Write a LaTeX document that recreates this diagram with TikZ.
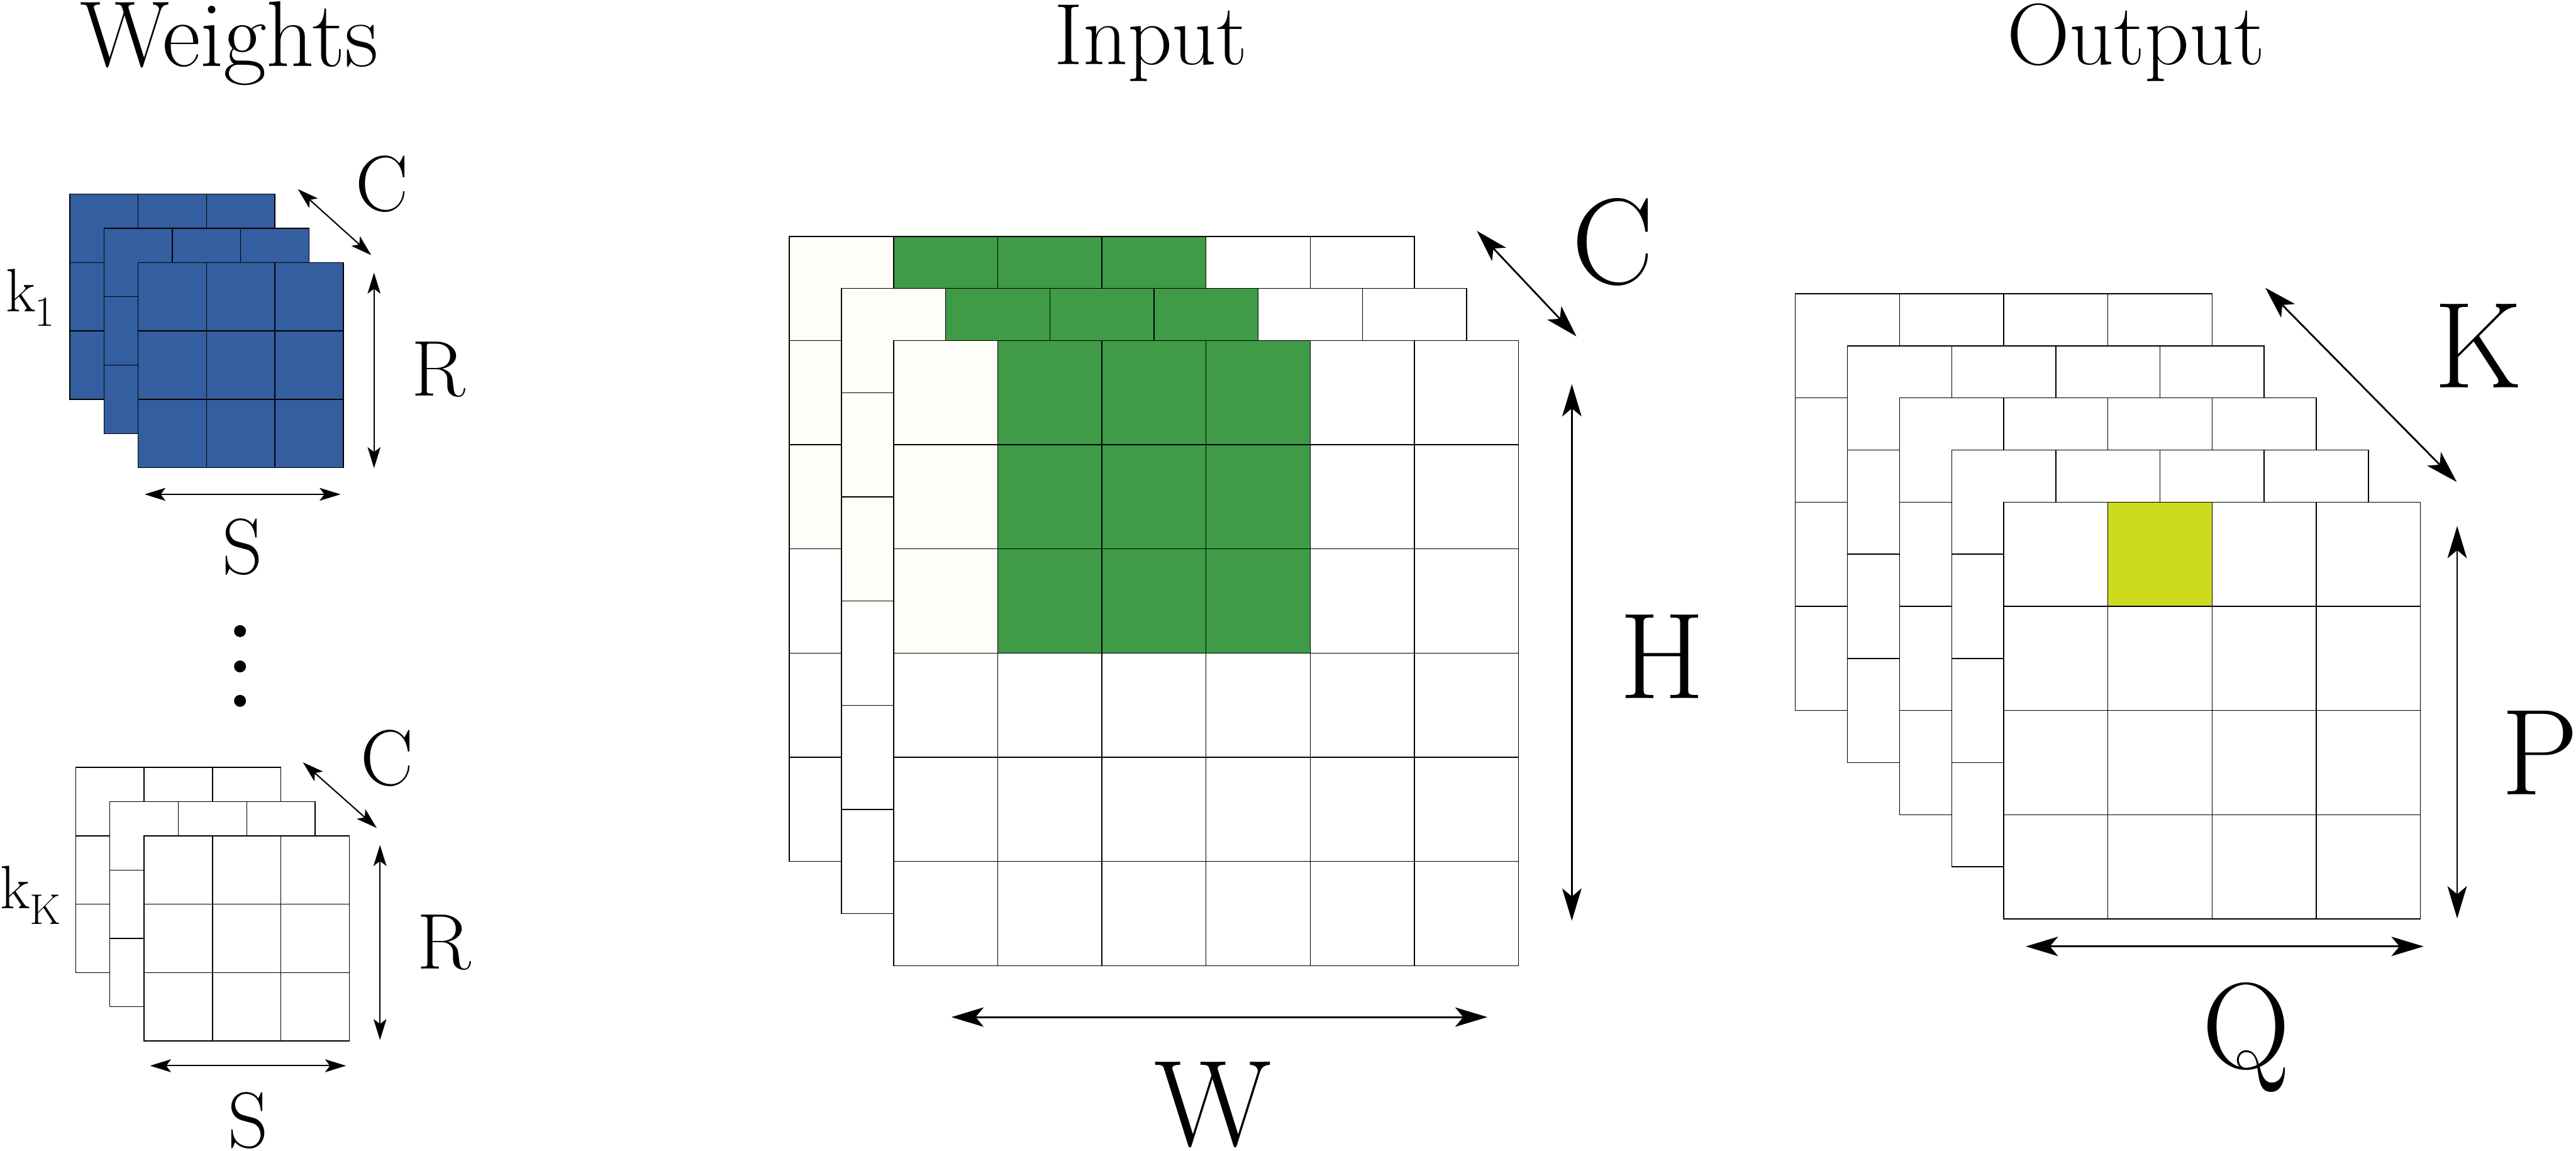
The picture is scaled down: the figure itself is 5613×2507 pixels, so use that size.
\documentclass[tikz,border=0pt]{standalone}
\usepackage{fontspec}
\usetikzlibrary{arrows.meta}
\definecolor{cWgt}{HTML}{335E9F}
\definecolor{cWin}{HTML}{3F9B46}
\definecolor{cPad}{HTML}{FFFDF7}
\definecolor{cHit}{HTML}{CCDB1E}
\tikzset{
  cell/.style={draw=black,line width=0.55pt,fill=white},
  dimarr/.style={{Stealth[length=20pt,width=12pt,inset=5pt]}-{Stealth[length=20pt,width=12pt,inset=5pt]},line width=1.1pt},
  wdimarr/.style={{Stealth[length=13pt,width=8pt,inset=3pt]}-{Stealth[length=13pt,width=8pt,inset=3pt]},line width=0.8pt},
  ttl/.style={font=\fontsize{54}{60}\selectfont,inner sep=0pt,anchor=base},
  biglbl/.style={font=\fontsize{76}{90}\selectfont,inner sep=0pt},
  wlbl/.style={font=\fontsize{49}{58}\selectfont,inner sep=0pt},
  klbl/.style={font=\fontsize{38}{46}\selectfont,inner sep=0pt,anchor=base west},
}
\begin{document}
\begin{tikzpicture}[x=0.1mm,y=-0.1mm]
  \useasboundingbox (0,0) rectangle (5613,2507);

  % titles
  \node[ttl,font=\fontsize{58}{64}\selectfont] (tW) at (500,145) {Weights};
  \node[ttl] (tI) at (2508,140) {Input};
  \node[ttl] (tO) at (4654,140) {Output};

  % weights k_1 and k_K
  \foreach \l in {0,1,2}
    \foreach \i in {0,1,2}
      \foreach \j in {0,1,2}
        \draw[cell,fill=cWgt] ({152+74.5*\l+149*\i},{423+74.5*\l+149*\j}) rectangle ++(149,149);
  \foreach \l in {0,1,2}
    \foreach \i in {0,1,2}
      \foreach \j in {0,1,2}
        \draw[cell] ({165+74.5*\l+149*\i},{1672+74.5*\l+149*\j}) rectangle ++(149,149);

  \node[klbl] (k1) at (13,679) {k\textsubscript{\kern-0.5pt1}};
  \node[klbl] (kK) at (0,1980) {k\textsubscript{K}};

  \foreach \y in {1375,1452,1527}
    \fill (523,\y) circle (13);

  \coordinate (wc1a) at (649,412);  \coordinate (wc1b) at (809,556);
  \coordinate (wr1a) at (815,594);  \coordinate (wr1b) at (815,1020);
  \coordinate (ws1a) at (315,1077); \coordinate (ws1b) at (742,1077);
  \coordinate (wc2a) at (660,1661); \coordinate (wc2b) at (821,1804);
  \coordinate (wr2a) at (828,1841); \coordinate (wr2b) at (828,2266);
  \coordinate (ws2a) at (327,2322); \coordinate (ws2b) at (754,2322);
  \draw[wdimarr] (wc1a) -- (wc1b);
  \draw[wdimarr] (wr1a) -- (wr1b);
  \draw[wdimarr] (ws1a) -- (ws1b);
  \draw[wdimarr] (wc2a) -- (wc2b);
  \draw[wdimarr] (wr2a) -- (wr2b);
  \draw[wdimarr] (ws2a) -- (ws2b);
  \node[wlbl] (lc1) at (832,401) {C};
  \node[wlbl] (lr1) at (956,805) {R};
  \node[wlbl] (ls1) at (528,1191) {S};
  \node[wlbl] (lc2) at (843,1652) {C};
  \node[wlbl] (lr2) at (968,2054) {R};
  \node[wlbl] (ls2) at (541,2441) {S};

  % input
  \foreach \l in {0,1,2}
    \foreach \i in {0,...,5}
      \foreach \j in {0,...,5}{
        \ifnum\j<3 \ifnum\i=0 \def\fc{cPad}\else\ifnum\i<4 \def\fc{cWin}\else\def\fc{white}\fi\fi\else\def\fc{white}\fi
        \draw[cell,fill=\fc] ({1720+113.5*\l+227*\i},{515+113.5*\l+227*\j}) rectangle ++(227,227);
      }
  \coordinate (icA) at (3218,503);  \coordinate (icB) at (3435,733);
  \coordinate (ihA) at (3425,837);  \coordinate (ihB) at (3425,2006);
  \coordinate (iwA) at (2073,2216); \coordinate (iwB) at (3241,2216);
  \draw[dimarr] (icA) -- (icB);
  \draw[dimarr] (ihA) -- (ihB);
  \draw[dimarr] (iwA) -- (iwB);
  \node[biglbl] (lC) at (3515,527) {C};
  \node[biglbl] (lH) at (3622,1431) {H};
  \node[biglbl] (lW) at (2643,2407) {W};

  % output
  \foreach \l in {0,...,4}
    \foreach \i in {0,...,3}
      \foreach \j in {0,...,3}{
        \def\fc{white}
        \ifnum\l=4 \ifnum\i=1 \ifnum\j=0 \def\fc{cHit}\fi\fi\fi
        \draw[cell,fill=\fc] ({3912+113.5*\l+227*\i},{640+113.5*\l+227*\j}) rectangle ++(227,227);
      }
  \coordinate (okA) at (4936,627);  \coordinate (okB) at (5353,1050);
  \coordinate (opA) at (5354,1146); \coordinate (opB) at (5354,2001);
  \coordinate (oqA) at (4414,2062); \coordinate (oqB) at (5281,2062);
  \draw[dimarr] (okA) -- (okB);
  \draw[dimarr] (opA) -- (opB);
  \draw[dimarr] (oqA) -- (oqB);
  \node[biglbl] (lK) at (5400,754) {K};
  \node[biglbl] (lP) at (5534,1640) {P};
  \node[biglbl] (lQ) at (4894,2260) {Q};
\end{tikzpicture}
\end{document}
